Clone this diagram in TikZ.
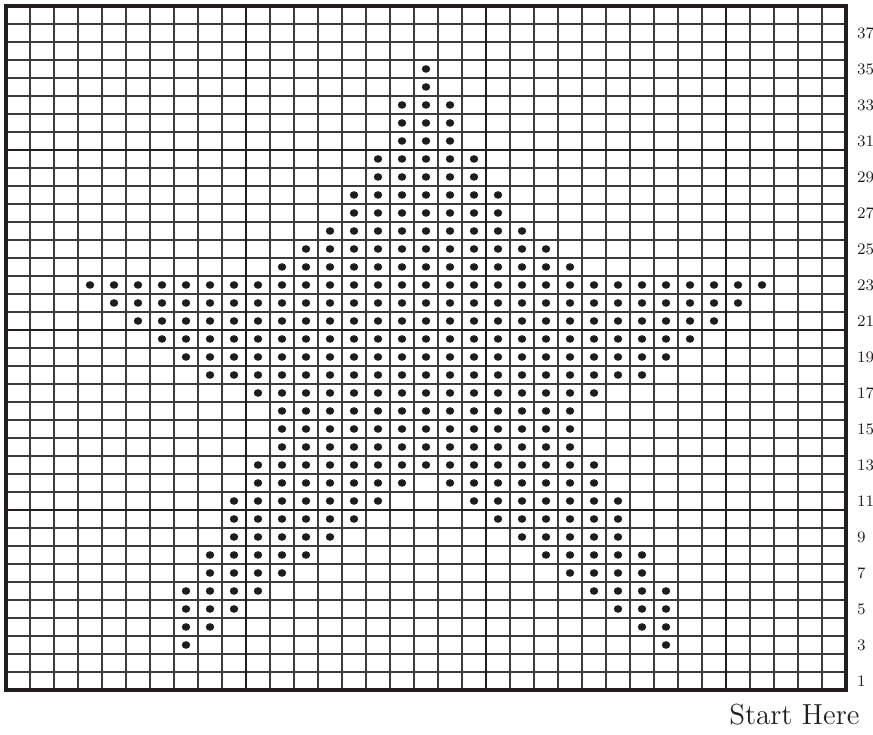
\documentclass[tikz,border=0pt]{standalone}
\usepackage{tikz}
\usepackage{xcolor}
\definecolor{gridline}{RGB}{60, 60, 60}
\definecolor{framedark}{RGB}{35, 31, 32}
\definecolor{stitchdark}{RGB}{30, 28, 29}
\definecolor{labeltext}{RGB}{35, 31, 32}

\begin{document}
\begin{tikzpicture}[x=12pt, y=9pt,
    gridthin/.style={gridline, line width=0.6pt},
    gridthick/.style={framedark, line width=1.1pt},
    gridframe/.style={framedark, line width=2.1pt},
    rowlabel/.style={labeltext, anchor=west, inner sep=0pt, font=\fontsize{8}{10}\selectfont},
    stitch/.style={stitchdark}]

  \useasboundingbox (-0.25,-2.5) rectangle (36.125,38.333);

  % ---------- Chart grid ----------
  \draw[gridthin, step=1] (0,0) grid (35,38);
  \foreach \gx in {10,20,30}
    \draw[gridthick] (\gx,0) -- (\gx,38);
  \foreach \gy in {10,20,30}
    \draw[gridthick] (0,\gy) -- (35,\gy);
  \draw[gridframe] (0,0) rectangle (35,38);

  % ---------- Stitches (row / first column / last column) ----------
  \foreach \r/\a/\b in {35/18/18, 34/18/18, 33/17/19, 32/17/19, 31/17/19,
      30/16/20, 29/16/20, 28/15/21, 27/15/21, 26/14/22, 25/13/23, 24/12/24,
      23/4/32, 22/5/31, 21/6/30, 20/7/29, 19/8/28, 18/9/27, 17/11/25,
      16/12/24, 15/12/24, 14/12/24, 13/11/25,
      12/11/17, 12/19/25, 11/10/16, 11/20/26, 10/10/15, 10/21/26,
      9/10/14, 9/22/26, 8/9/13, 8/23/27, 7/9/12, 7/24/27,
      6/8/11, 6/25/28, 5/8/10, 5/26/28, 4/8/9, 4/27/28, 3/8/8, 3/28/28}
    \foreach \col in {\a,...,\b}
      \fill[stitch] (\col-0.5,\r-0.5) ellipse (2.1pt and 1.9pt);

  % ---------- Row numbers ----------
  \foreach \r in {1,3,...,37}
    \node[rowlabel] (row\r) at (35.45,\r-0.5) {\r};

  % ---------- Start label ----------
  \node[labeltext, anchor=base east, inner sep=0pt, font=\fontsize{14.5}{16}\selectfont]
    (start) at (35.58,-1.94) {Start Here};

\end{tikzpicture}
\end{document}
